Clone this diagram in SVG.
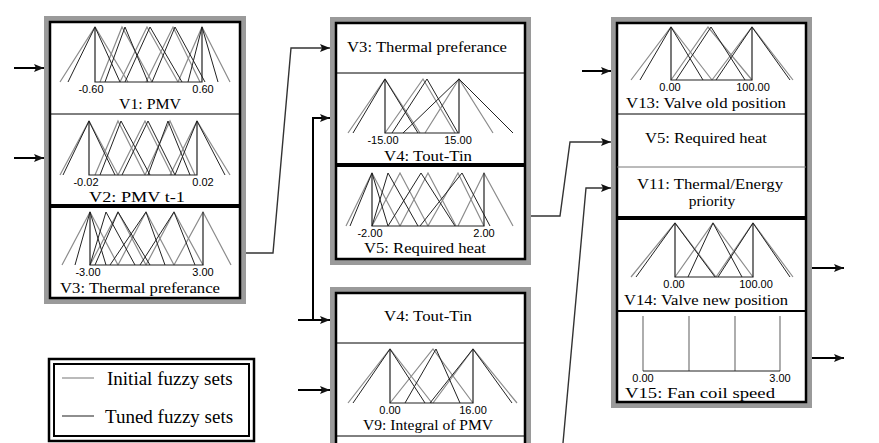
<svg xmlns="http://www.w3.org/2000/svg" width="879" height="443" viewBox="0 0 879 443">
<defs>
<marker id="ah" viewBox="0 0 10 8" refX="10" refY="4" markerWidth="11" markerHeight="8" markerUnits="userSpaceOnUse" orient="auto"><path d="M0,0 L10,4 L0,8 L2,4 Z" fill="#111"/></marker>
</defs>
<style>
.frame{fill:#9a9a9a}
.inner{fill:#fff;stroke:#000;stroke-width:2.5}
.thin{stroke:#000;stroke-width:1}
.thick{stroke:#000;stroke-width:4}
.ini{fill:none;stroke:#8c8c8c;stroke-width:1.2}
.tun{fill:none;stroke:#222;stroke-width:1}
.axis{fill:none;stroke:#222;stroke-width:1.2}
.num{font-family:"Liberation Sans",Arial,sans-serif;font-size:11px;text-anchor:middle;fill:#000}
.nm{font-family:"Liberation Serif","Times New Roman",serif;font-size:15.5px;text-anchor:middle;fill:#000}
.lg{font-family:"Liberation Serif","Times New Roman",serif;font-size:19px;fill:#000}
.arr{fill:none;stroke:#000;stroke-width:2;marker-end:url(#ah)}
.cona{fill:none;stroke:#333;stroke-width:1.4;marker-end:url(#ah)}
</style>

<g id="block-left">
<rect class="frame" x="44" y="16" width="202" height="288"/>
<rect class="inner" x="50" y="22" width="190" height="276"/>
<line class="thin" x1="50" y1="114" x2="240" y2="114" stroke-width="1.5"/>
<line class="thick" x1="50" y1="206" x2="240" y2="206"/>
</g>

<g id="v1">
<polyline class="ini" points="60,82 95,27 128,82"/>
<polyline class="ini" points="100,82 122,27 152,82"/>
<polyline class="ini" points="120,82 147,27 178,82"/>
<polyline class="ini" points="146,82 173,27 200,82"/>
<polyline class="ini" points="178,82 202,27 230,82"/>
<polyline class="tun" points="68,82 95,27 120,82"/>
<polyline class="tun" points="105,82 125,27 148,82"/>
<polyline class="tun" points="125,82 150,27 182,82"/>
<polyline class="tun" points="152,82 175,27 205,82"/>
<polyline class="tun" points="188,82 202,27 218,82"/>
<polyline class="axis" points="95,27 95,82 202,82 202,27"/>
<text class="num" x="91" y="93">-0.60</text>
<text class="num" x="203" y="93">0.60</text>
<text class="nm" x="150" y="109" textLength="62" lengthAdjust="spacingAndGlyphs">V1: PMV</text>
</g>

<g id="v2">
<polyline class="ini" points="60,175 89,121 118,175"/>
<polyline class="ini" points="95,175 118,121 145,175"/>
<polyline class="ini" points="118,175 145,121 172,175"/>
<polyline class="ini" points="145,175 170,121 195,175"/>
<polyline class="ini" points="170,175 197,121 230,175"/>
<polyline class="tun" points="63,175 89,121 115,175"/>
<polyline class="tun" points="100,175 121,121 150,175"/>
<polyline class="tun" points="122,175 148,121 175,175"/>
<polyline class="tun" points="148,175 168,121 190,175"/>
<polyline class="tun" points="175,175 197,121 225,175"/>
<polyline class="axis" points="89,121 89,175 197,175 197,121"/>
<text class="num" x="86" y="186">-0.02</text>
<text class="num" x="203" y="186">0.02</text>
<text class="nm" x="137" y="202" textLength="96" lengthAdjust="spacingAndGlyphs">V2: PMV t-1</text>
</g>

<g id="v3">
<polyline class="ini" points="62,265 90,212 118,265"/>
<polyline class="ini" points="90,265 118,212 146,265"/>
<polyline class="ini" points="118,265 146,212 174,265"/>
<polyline class="ini" points="146,265 174,212 203,265"/>
<polyline class="ini" points="174,265 203,212 231,265"/>
<polyline class="tun" points="75,265 90,212 106,265"/>
<polyline class="tun" points="90,265 106,212 135,265"/>
<polyline class="tun" points="110,265 146,212 165,265"/>
<polyline class="tun" points="140,265 174,212 195,265"/>
<polyline class="tun" points="95,265 118,212 150,265"/>
<polyline class="axis" points="90,212 90,265 203,265 203,212"/>
<text class="num" x="88" y="276">-3.00</text>
<text class="num" x="203" y="276">3.00</text>
<text class="nm" x="140" y="293" textLength="160" lengthAdjust="spacingAndGlyphs">V3: Thermal preferance</text>
</g>

<g id="block-mid-top">
<rect class="frame" x="330" y="17" width="201" height="248"/>
<rect class="inner" x="336" y="23" width="189" height="236"/>
<line class="thin" x1="336" y1="73" x2="525" y2="73"/>
<line class="thick" x1="336" y1="165" x2="525" y2="165"/>
<text class="nm" x="427" y="52" textLength="160" lengthAdjust="spacingAndGlyphs">V3: Thermal preferance</text>
</g>

<g id="v4">
<polyline class="ini" points="348,133 385,79 420,133"/>
<polyline class="ini" points="385,133 423,79 455,133"/>
<polyline class="ini" points="425,133 459,79 493,133"/>
<polyline class="tun" points="353,133 385,79 418,133"/>
<polyline class="tun" points="392,133 427,79 458,133"/>
<polyline class="tun" points="403,133 459,79 513,133"/>
<polyline class="axis" points="385,79 385,133 459,133 459,79"/>
<text class="num" x="383" y="144">-15.00</text>
<text class="num" x="458" y="144">15.00</text>
<text class="nm" x="428" y="161" textLength="88" lengthAdjust="spacingAndGlyphs">V4: Tout-Tin</text>
</g>

<g id="v5">
<polyline class="ini" points="346,226 372,173 400,226"/>
<polyline class="ini" points="372,226 400,173 428,226"/>
<polyline class="ini" points="400,226 428,173 456,226"/>
<polyline class="ini" points="428,226 458,173 484,226"/>
<polyline class="ini" points="458,226 484,173 513,226"/>
<polyline class="tun" points="350,226 372,173 388,226"/>
<polyline class="tun" points="372,226 388,173 418,226"/>
<polyline class="tun" points="388,226 421,173 455,226"/>
<polyline class="tun" points="420,226 462,173 490,226"/>
<polyline class="axis" points="372,173 372,226 484,226 484,173"/>
<text class="num" x="370" y="237">-2.00</text>
<text class="num" x="484" y="237">2.00</text>
<text class="nm" x="425" y="253" textLength="122" lengthAdjust="spacingAndGlyphs">V5: Required heat</text>
</g>

<g id="block-mid-bottom">
<rect class="frame" x="330" y="287" width="201" height="170"/>
<rect class="inner" x="336" y="293" width="189" height="160"/>
<line class="thin" x1="336" y1="343" x2="525" y2="343"/>
<line class="thin" x1="336" y1="436" x2="525" y2="436"/>
<text class="nm" x="428" y="321" textLength="88" lengthAdjust="spacingAndGlyphs">V4: Tout-Tin</text>
</g>

<g id="v9">
<polyline class="ini" points="348,403 390,349 432,403"/>
<polyline class="ini" points="390,403 433,349 473,403"/>
<polyline class="ini" points="433,403 473,349 517,403"/>
<polyline class="tun" points="353,403 390,349 425,403"/>
<polyline class="tun" points="405,403 436,349 460,403"/>
<polyline class="tun" points="430,403 473,349 512,403"/>
<polyline class="axis" points="390,349 390,403 473,403 473,349"/>
<text class="num" x="390" y="414">0.00</text>
<text class="num" x="473" y="414">16.00</text>
<text class="nm" x="428" y="430" textLength="130" lengthAdjust="spacingAndGlyphs">V9: Integral of PMV</text>
</g>

<g id="block-right">
<rect class="frame" x="611" y="17" width="201" height="391"/>
<rect class="inner" x="617" y="23" width="189" height="379"/>
<line class="thin" x1="617" y1="114" x2="806" y2="114"/>
<line x1="617" y1="167" x2="806" y2="167" stroke="#777" stroke-width="1"/>
<line class="thick" x1="617" y1="218" x2="806" y2="218"/>
<line x1="617" y1="311" x2="806" y2="311" stroke="#000" stroke-width="2"/>
<text class="nm" x="706" y="143" textLength="122" lengthAdjust="spacingAndGlyphs">V5: Required heat</text>
<text class="nm" x="710" y="189" textLength="146" lengthAdjust="spacingAndGlyphs">V11: Thermal/Energy</text>
<text class="nm" x="712" y="206">priority</text>
</g>

<g id="v13">
<polyline class="ini" points="631,80 671,27 712,80"/>
<polyline class="ini" points="671,80 708,27 752,80"/>
<polyline class="ini" points="712,80 752,27 793,80"/>
<polyline class="tun" points="640,80 671,27 703,80"/>
<polyline class="tun" points="676,80 711,27 745,80"/>
<polyline class="tun" points="716,80 752,27 790,80"/>
<polyline class="axis" points="671,27 671,80 752,80 752,27"/>
<text class="num" x="670" y="91">0.00</text>
<text class="num" x="753" y="91">100.00</text>
<text class="nm" x="706" y="108" textLength="160" lengthAdjust="spacingAndGlyphs">V13: Valve old position</text>
</g>

<g id="v14">
<polyline class="ini" points="631,277 675,223 716,277"/>
<polyline class="ini" points="675,277 713,223 753,277"/>
<polyline class="ini" points="716,277 753,223 793,277"/>
<polyline class="tun" points="636,277 675,223 715,277"/>
<polyline class="tun" points="688,277 713,223 742,277"/>
<polyline class="tun" points="718,277 753,223 790,277"/>
<polyline class="axis" points="675,223 675,277 753,277 753,223"/>
<text class="num" x="674" y="288">0.00</text>
<text class="num" x="756" y="288">100.00</text>
<text class="nm" x="706" y="305" textLength="164" lengthAdjust="spacingAndGlyphs">V14: Valve new position</text>
</g>

<g id="v15">
<line x1="643" y1="316" x2="643" y2="371" stroke="#777" stroke-width="1.2"/>
<line x1="689" y1="316" x2="689" y2="371" stroke="#777" stroke-width="1.2"/>
<line x1="735" y1="316" x2="735" y2="371" stroke="#777" stroke-width="1.2"/>
<line x1="780" y1="316" x2="780" y2="371" stroke="#777" stroke-width="1.2"/>
<line class="axis" x1="643" y1="371" x2="780" y2="371"/>
<text class="num" x="643" y="382">0.00</text>
<text class="num" x="780" y="382">3.00</text>
<text class="nm" x="700" y="398" textLength="150" lengthAdjust="spacingAndGlyphs">V15: Fan coil speed</text>
</g>

<g id="legend">
<rect x="49" y="359" width="205" height="82" fill="#fff" stroke="#000" stroke-width="2.5"/>
<rect x="54" y="364" width="195" height="72" fill="none" stroke="#000" stroke-width="2"/>
<line x1="62" y1="378" x2="94" y2="378" stroke="#8c8c8c" stroke-width="1.2"/>
<text class="lg" x="107" y="385">Initial fuzzy sets</text>
<line x1="62" y1="416" x2="94" y2="416" stroke="#444" stroke-width="1.2"/>
<text class="lg" x="105" y="423">Tuned fuzzy sets</text>
</g>

<g id="connectors">
<path class="arr" d="M14,68 H44"/>
<path class="arr" d="M14,158 H44"/>
<path class="cona" d="M246,253 H273 L291,48 H330"/>
<path class="arr" d="M313,320 V118 H330"/>
<path class="arr" d="M298,320 H330"/>
<path class="arr" d="M298,390 H330"/>
<path class="cona" d="M531,216 H560 L570,142 H611"/>
<path class="cona" d="M563,443 L586,188 H611"/>
<path class="arr" d="M582,71 H611"/>
<path class="arr" d="M812,268 H844"/>
<path class="arr" d="M812,358 H844"/>
</g>
</svg>
